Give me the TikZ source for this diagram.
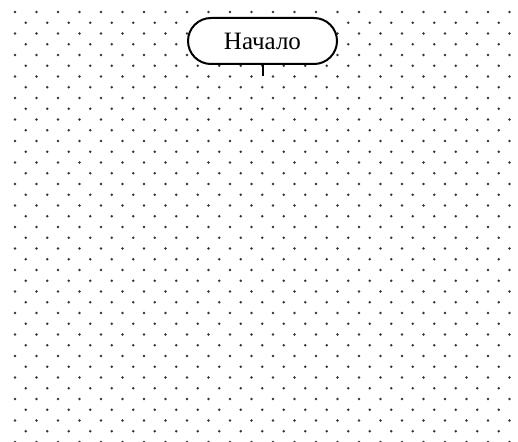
\documentclass[tikz,border=0pt]{standalone}
\usepackage{fontspec}
\setmainfont{Liberation Serif}
\usetikzlibrary{positioning}

\begin{document}
\begin{tikzpicture}[
    x=1pt, y=1pt,
    % Styles
    griddot/.style={fill=black!80, draw=none},
    terminal/.style={draw, line width=2pt, fill=white, rounded corners=23pt, minimum width=149pt, minimum height=46pt, inner sep=0pt, font=\fontsize{25}{29}\selectfont},
    flowline/.style={line width=2pt},
]
\useasboundingbox (0,0) rectangle (518,-441);

% ── Dot grid (staggered rows) ──
\foreach \j in {0,...,40}{
  \pgfmathtruncatemacro\odd{mod(\j,2)}
  \pgfmathtruncatemacro\last{23-\odd}
  \foreach \k in {0,...,\last}
    \fill[griddot] ({15+10.75*\odd+21.5*\k},{-12-10.75*\j}) circle (1.35pt);
}

% ── Start terminal ──
\node[terminal] (start) at (262.5,-41) {Начало};
\coordinate[below=11pt of start.south] (startout);

\draw[flowline] (start.south) -- (startout);

\end{tikzpicture}
\end{document}
